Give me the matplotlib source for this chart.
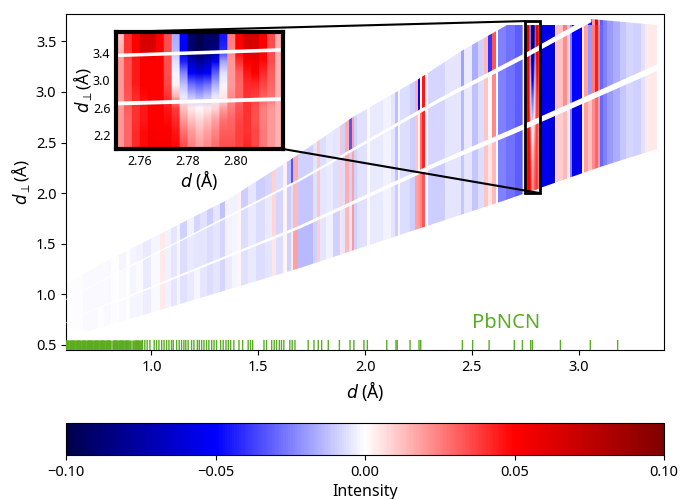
import matplotlib
matplotlib.use('Agg')
import matplotlib.pyplot as plt
import numpy as np
from matplotlib.patches import Polygon

plt.rcParams['font.family'] = ['Noto Sans', 'DejaVu Sans']
plt.rcParams['mathtext.fontset'] = 'dejavusans'

W = 680
H = 499

# column edges in d, and intensity in the three detector bands
d_edges = [0.600, 0.680, 0.750, 0.780, 0.810, 0.850, 0.880, 0.900, 0.930, 0.960,
           1.000, 1.040, 1.063, 1.090, 1.120, 1.134, 1.165, 1.200, 1.227, 1.260,
           1.290, 1.320, 1.345, 1.375, 1.400, 1.420, 1.450, 1.490, 1.530, 1.565,
           1.585, 1.615, 1.635, 1.653, 1.665, 1.686, 1.757, 1.775, 1.789, 1.817,
           1.850, 1.883, 1.890, 1.906, 1.925, 1.938, 1.950, 1.963, 2.010, 2.024,
           2.084, 2.120, 2.141, 2.155, 2.164, 2.211, 2.234, 2.248, 2.258, 2.267,
           2.281, 2.295, 2.375, 2.450, 2.464, 2.501, 2.529, 2.558, 2.576, 2.595,
           2.614, 2.623, 2.660, 2.700, 2.735, 2.742, 2.750, 2.820, 2.857, 2.890,
           2.895, 2.927, 2.946, 2.958, 2.970, 3.016, 3.025, 3.045, 3.063, 3.077,
           3.091, 3.101, 3.115, 3.134, 3.160, 3.195, 3.220, 3.255, 3.290, 3.311, 3.368]
band_low = [-.0005, -.001, -.0005, -.001, -.0005, -.0015, -.0005, -.002, -.002, -.0035,
            -.001, .004, -.003, -.005, -.002, -.006, -.004, -.002, -.005, -.007,
            -.005, -.008, -.004, -.002, .002, -.006, -.004, -.007, -.005, .005,
            -.007, .002, -.009, .004, .018, -.014, -.009, .010, -.005, -.003,
            -.009, .005, -.005, .014, -.005, .020, -.009, -.006, -.001, -.004,
            -.003, -.005, -.010, -.002, -.007, -.010, .018, .020, .024, .033,
            0, -.010, -.005, -.011, -.005, -.011, -.007, .011, .005, .014,
            0, -.025, -.028, -.032, -.020, 0, .03, -.055, -.058, .002,
            .010, .014, .004, -.025, -.055, .004, .018, .012, .022, .030,
            .020, -.030, -.025, -.020, -.016, -.011, -.008, -.009, -.006, .004]
band_mid = [-.0005, -.001, -.001, -.0015, -.0005, -.0015, -.0005, -.002, -.0015, -.004,
            -.001, .004, -.003, -.005, -.002, -.007, -.004, -.005, -.005, -.007,
            -.005, -.008, -.003, -.002, .002, -.007, -.004, -.007, -.004, .008,
            -.008, .002, -.010, -.006, .014, -.011, -.006, .011, -.005, -.004,
            -.007, .009, -.007, .016, -.009, .018, -.009, -.006, -.001, -.004,
            -.003, -.005, -.012, -.002, -.007, -.010, .011, .002, .028, .043,
            .002, -.008, -.005, -.014, -.004, -.012, -.007, .011, .001, .023,
            0, -.025, -.028, -.032, -.020, 0, .03, -.055, -.058, .004,
            .012, .022, .010, -.025, -.050, .004, .018, -.020, .025, .045,
            .025, -.030, -.025, -.020, -.016, -.011, -.008, -.009, -.006, .004]
band_high = [-.0005, -.001, -.001, -.0015, -.0005, -.002, -.0005, -.002, -.003, -.004,
             -.002, .004, -.003, -.005, -.002, -.009, -.003, -.008, -.006, -.010,
             -.005, -.012, -.003, -.003, .003, -.010, -.005, -.010, -.008, .009,
             -.007, .003, -.013, -.033, .016, -.009, -.005, .011, -.007, -.004,
             -.005, .011, -.009, .016, -.033, .018, -.009, -.006, -.001, -.004,
             -.003, -.005, -.013, -.002, -.007, -.010, .016, -.050, 0, .046,
             .003, -.008, -.005, -.018, -.004, -.016, -.009, .014, -.040, .033,
             0, -.025, -.028, -.032, -.020, 0, .03, -.055, -.058, .006,
             .012, .026, .012, -.025, -.050, .005, .022, -.045, .020, .052,
             .020, -.032, -.025, -.020, -.016, -.011, -.008, -.009, -.006, .004]

# outline of the covered region
low_d = [0.60, 0.71, 0.993, 1.695, 2.29, 2.632, 2.74, 3.10, 3.368]
low_perp = [0.68, 0.64, 0.816, 1.26, 1.68, 1.91, 1.99, 2.26, 2.44]
up_d = [0.60, 0.773, 1.04, 1.353, 1.649, 1.944, 2.243, 2.459, 2.664, 3.368]
up_perp = [1.10, 1.31, 1.60, 1.93, 2.33, 2.75, 3.12, 3.41, 3.66, 3.66]

# the two white gaps
gap1_d = [0.60, 0.759, 0.853, 1.695, 2.35, 2.76, 3.368]
gap1_perp = [0.72, 0.875, 0.944, 1.665, 2.30, 2.67, 3.24]
gap1_half = [0.002, 0.006, 0.008, 0.015, 0.022, 0.028, 0.032]
gap2_d = [0.60, 0.80, 1.695, 2.35, 2.76, 2.99, 3.06]
gap2_perp = [0.95, 1.17, 2.13, 2.92, 3.37, 3.64, 3.72]
gap2_half = [0.004, 0.006, 0.012, 0.020, 0.025, 0.030, 0.030]

# inset cells, rows go bottom to top
inset_c = [
    [.020, .030, .042, .048, .052, .052, .052, .048, .034, .024, .018, .022, .028, .034, .034, .038, .042, .036, .026, .020, .015],
    [.020, .030, .042, .048, .052, .050, .050, .046, .028, .020, .014, .018, .024, .032, .032, .038, .040, .036, .026, .020, .015],
    [.020, .030, .040, .046, .050, .050, .048, .042, .020, .012, .008, .012, .018, .028, .030, .036, .040, .034, .025, .020, .015],
    [.020, .032, .040, .046, .050, .050, .046, .038, .012, .004, .001, .004, .008, .018, .026, .034, .040, .035, .025, .020, .015],
    [.020, .033, .042, .048, .050, .050, .040, .015, -.004, -.012, -.016, -.012, -.004, .004, .022, .030, .040, .038, .032, .028, .015],
    [.020, .035, .045, .050, .050, .050, .036, .003, -.012, -.028, -.032, -.028, -.016, -.002, .020, .030, .042, .042, .036, .030, .015],
    [.020, .035, .045, .050, .050, .050, .035, -.002, -.024, -.050, -.058, -.052, -.032, -.006, .020, .032, .046, .050, .042, .032, .015],
    [.020, .035, .045, .050, .050, .050, .035, -.006, -.044, -.068, -.078, -.070, -.052, -.018, .020, .040, .052, .054, .048, .035, .015],
    [.015, .040, .050, .064, .064, .050, .035, -.014, -.050, -.090, -.098, -.090, -.085, -.042, .024, .050, .064, .064, .050, .035, .015],
    [.012, .040, .050, .066, .066, .050, .035, -.016, -.050, -.092, -.100, -.092, -.092, -.046, .025, .050, .066, .066, .050, .035, .015],
]

# calculated peak positions, dense part first
peaks_dense = [0.600, 0.606, 0.611, 0.617, 0.622, 0.628, 0.634, 0.639, 0.645, 0.651,
               0.656, 0.662, 0.667, 0.673, 0.679, 0.684, 0.690, 0.696, 0.701, 0.707,
               0.712, 0.718, 0.724, 0.729, 0.735, 0.741, 0.746, 0.752, 0.757, 0.763,
               0.769, 0.774, 0.780, 0.786, 0.791, 0.797, 0.802, 0.808, 0.819, 0.824,
               0.830, 0.836, 0.841, 0.847, 0.852, 0.858, 0.864, 0.869, 0.875, 0.881,
               0.886, 0.892, 0.898, 0.916, 0.921, 0.927, 0.932, 0.938, 0.943, 0.949]
peaks_sparse = [0.958, 0.969, 0.980, 0.993, 1.013, 1.024, 1.035, 1.048, 1.059, 1.071,
                1.082, 1.094, 1.102, 1.118, 1.130, 1.141, 1.152, 1.161, 1.172, 1.188,
                1.199, 1.215, 1.224, 1.235, 1.246, 1.258, 1.269, 1.282, 1.293, 1.305,
                1.324, 1.336, 1.349, 1.360, 1.371, 1.386, 1.410, 1.427, 1.453, 1.464,
                1.474, 1.527, 1.539, 1.563, 1.575, 1.586, 1.599, 1.609, 1.620, 1.648,
                1.659, 1.672, 1.734, 1.761, 1.781, 1.797, 1.828, 1.880, 1.930, 1.948,
                1.995, 2.011, 2.102, 2.145, 2.151, 2.211, 2.253, 2.261, 2.456, 2.504,
                2.581, 2.699, 2.737, 2.776, 2.784, 2.915, 3.055, 3.183]


def box(left, top, right, bottom):
    return [left / W, 1 - bottom / H, (right - left) / W, (bottom - top) / H]


def gap_poly(d, perp, half):
    d = np.array(d)
    perp = np.array(perp)
    half = np.array(half)
    return np.r_[np.c_[d, perp - half], np.c_[d, perp + half][::-1]]


green = '#5aac23'
vmin = -0.1
vmax = 0.1
# columns stay sharp, bilinear only smooths along d_perp
inset_img = np.repeat(np.array(inset_c), 8, axis=1)
inset_ext = [2.75, 2.82, 2.0, 3.70]

fig = plt.figure(figsize=(W / 100, H / 100), dpi=100)
ax = fig.add_axes(box(66, 14, 664, 350))

g1 = gap_poly(gap1_d, gap1_perp, gap1_half)
g2 = gap_poly(gap2_d, gap2_perp, gap2_half)
outline = np.r_[np.c_[low_d, low_perp], np.c_[up_d, up_perp][::-1]]

# each band is a row of columns cut to its own part of the region
lower_part = np.r_[np.c_[low_d, low_perp], np.c_[gap1_d, gap1_perp][::-1]]
middle_part = np.r_[np.c_[gap1_d, gap1_perp], [[3.368, 3.66], [3.06, 3.66]], np.c_[gap2_d, gap2_perp][::-1]]
upper_part = np.r_[np.c_[gap2_d, gap2_perp], [[3.368, 3.66]], np.c_[up_d, up_perp][::-1]]

for vals, part in [(band_low, lower_part), (band_mid, middle_part), (band_high, upper_part)]:
    m = ax.pcolormesh(d_edges, [0.45, 3.77], [vals], cmap='seismic', vmin=vmin, vmax=vmax)
    m.set_clip_path(Polygon(part, transform=ax.transData))

im = ax.imshow(inset_img, extent=inset_ext, origin='lower', aspect='auto', interpolation='bilinear',
               cmap='seismic', vmin=vmin, vmax=vmax, zorder=2)
im.set_clip_path(Polygon(outline, transform=ax.transData))
ax.fill(g1[:, 0], g1[:, 1], color='white', lw=0, zorder=3)
ax.fill(g2[:, 0], g2[:, 1], color='white', lw=0, zorder=3)

ax.vlines(peaks_dense, 0.45, 0.55, color=green, lw=1.8, zorder=4)
rug = ax.vlines(peaks_sparse, 0.45, 0.55, color=green, lw=1, zorder=4)
rug.set_snap(False)
ax.text(2.66, 0.72, 'PbNCN', color=green, fontsize=14.5, ha='center', va='center')

ax.set_xlim(0.6, 3.4)
ax.set_ylim(0.45, 3.77)
ax.set_xticks([1.0, 1.5, 2.0, 2.5, 3.0])
ax.set_yticks([0.5, 1.0, 1.5, 2.0, 2.5, 3.0, 3.5])
ax.tick_params(labelsize=10.5)
ax.set_xlabel(r'$d$ (Å)', fontsize=12.5, labelpad=3)
ax.set_ylabel(r'$d_\perp$(Å)', fontsize=12, labelpad=3)

ins = fig.add_axes(box(116, 32, 283, 149))
ins.imshow(inset_img, extent=inset_ext, origin='lower', aspect='auto', interpolation='bilinear',
           cmap='seismic', vmin=vmin, vmax=vmax)
ins.fill(g1[:, 0], g1[:, 1], color='white', lw=0)
ins.fill(g2[:, 0], g2[:, 1], color='white', lw=0)
ins.set_xlim(2.75, 2.82)
ins.set_ylim(2.0, 3.70)
ins.set_xticks([2.76, 2.78, 2.80])
ins.set_yticks([2.2, 2.6, 3.0, 3.4])
ins.tick_params(labelsize=9, length=0, pad=4)
ins.set_xlabel(r'$d$ (Å)', fontsize=12.5, labelpad=0)
ins.set_ylabel(r'$d_\perp$(Å)', fontsize=12, labelpad=-1)
for s in ins.spines.values():
    s.set_linewidth(3)
ind = ax.indicate_inset_zoom(ins, edgecolor='black', alpha=1, lw=2, zorder=5)
for c in ind.connectors:
    c.set_linewidth(1.5)

cax = fig.add_axes(box(66, 423, 664, 455))
sm = plt.cm.ScalarMappable(cmap='seismic', norm=plt.Normalize(vmin, vmax))
cb = fig.colorbar(sm, cax=cax, orientation='horizontal')
cb.set_ticks([-0.10, -0.05, 0.00, 0.05, 0.10])
cb.ax.tick_params(labelsize=10.5)
cb.set_label('Intensity', fontsize=11.5, labelpad=3)

fig.savefig('out.png', dpi=100)
